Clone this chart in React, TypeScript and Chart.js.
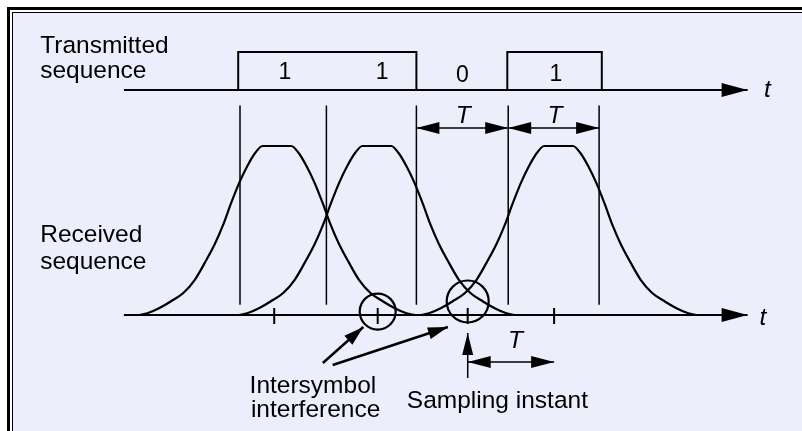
import React, { useEffect, useRef } from "react";
import { Chart, registerables } from "chart.js";

Chart.register(...registerables);

// x: time in bit periods T; yRx: received amplitude; yTx: transmitted level
const bits = [1, 1, 0, 1];
const txEdges = [-0.02, 0.97, 1.96, 2.97, 4.02];
const rxEdges = [0, 0.96, 1.96, 2.98, 3.99];
const bitLabels = ["1", "1", "0", "1"];
const bitLabelTimes = [0.5, 1.58, 2.47, 3.51];
const bitLabelLevels = [0.29, 0.29, 0.21, 0.24];

const pulseCenters = [0.41, 1.52, 3.54];
const pulseOffsets = [
  -1.53, -1.44, -1.31, -1.18, -1.04, -0.91, -0.8, -0.69, -0.6, -0.51, -0.42, -0.33, -0.24, -0.16,
  0.16, 0.24, 0.33, 0.42, 0.51, 0.6, 0.69, 0.8, 0.91, 1.04, 1.18, 1.31, 1.44, 1.53,
];
const pulseAmps = [
  0, 0.01, 0.04, 0.08, 0.13, 0.21, 0.31, 0.42, 0.53, 0.66, 0.78, 0.88, 0.96, 1,
  1, 0.96, 0.88, 0.78, 0.66, 0.53, 0.42, 0.31, 0.21, 0.13, 0.08, 0.04, 0.01, 0,
];

const sampleTimes = [0.38, 1.53, 2.53, 3.49];
const isiTimes = [1.53, 2.53];
const isiLevels = [0.02, 0.08];

const axisRange = [-1.29, 5.64];
const edgeSpan = [0.06, 1.24];
const dimLevel = 1.1065;
const sampleDimLevel = -0.278;
const sampleArrow = [-0.373, -0.1065];
const isiArrowFrom = [
  [0.92, -0.284],
  [1.03, -0.296],
];
const isiArrowTo = [
  [1.37, -0.071],
  [2.31, -0.071],
];

const texts = [
  { text: "Transmitted", x: -2.22, y: 0.974, axis: "yTx", align: "left", italic: false },
  { text: "sequence", x: -2.22, y: 0.316, axis: "yTx", align: "left", italic: false },
  { text: "Received", x: -2.22, y: 0.432, axis: "yRx", align: "left", italic: false },
  { text: "sequence", x: -2.22, y: 0.272, axis: "yRx", align: "left", italic: false },
  { text: "T", x: 2.48, y: 1.136, axis: "yRx", align: "center", italic: true },
  { text: "T", x: 3.5, y: 1.136, axis: "yRx", align: "center", italic: true },
  { text: "T", x: 3.06, y: -0.195, axis: "yRx", align: "center", italic: true },
  { text: "t", x: 5.86, y: -0.184, axis: "yTx", align: "center", italic: true },
  { text: "t", x: 5.81, y: -0.059, axis: "yRx", align: "center", italic: true },
  { text: "Intersymbol", x: 0.81, y: -0.4615, axis: "yRx", align: "center", italic: false },
  { text: "interference", x: 0.84, y: -0.6036, axis: "yRx", align: "center", italic: false },
  { text: "Sampling instant", x: 2.86, y: -0.55, axis: "yRx", align: "center", italic: false },
];

const FONT = '"Liberation Sans", Arial, Helvetica, sans-serif';
const BG = "#EDEEFC";

const framePlugin = {
  id: "frame",
  beforeDraw(chart: any) {
    const { ctx, width, height } = chart;
    ctx.save();
    ctx.fillStyle = "#ffffff";
    ctx.fillRect(0, 0, width, height);
    ctx.fillStyle = "#000000";
    ctx.fillRect(7, 7, width, height);
    ctx.fillStyle = "#ffffff";
    ctx.fillRect(10, 10, width, height);
    ctx.fillStyle = "#000000";
    ctx.fillRect(12, 12, width, height);
    ctx.fillStyle = BG;
    ctx.fillRect(13, 13, width, height);
    ctx.restore();
  },
};

const arrowPlugin = {
  id: "arrows",
  afterDatasetsDraw(chart: any) {
    const ctx = chart.ctx;
    chart.data.datasets.forEach((ds: any, i: number) => {
      if (!ds.arrows) return;
      const pts = chart.getDatasetMeta(i).data;
      if (pts.length < 2) return;
      const L = ds.headLen || 24;
      const H = ds.headHalf || 6;
      const head = (tip: any, from: any) => {
        const dx = tip.x - from.x;
        const dy = tip.y - from.y;
        const d = Math.hypot(dx, dy) || 1;
        const ux = dx / d;
        const uy = dy / d;
        const bx = tip.x - ux * L;
        const by = tip.y - uy * L;
        ctx.beginPath();
        ctx.moveTo(tip.x, tip.y);
        ctx.lineTo(bx - uy * H, by + ux * H);
        ctx.lineTo(bx + uy * H, by - ux * H);
        ctx.closePath();
        ctx.fill();
      };
      ctx.save();
      ctx.fillStyle = "#000";
      if (ds.arrows === "end" || ds.arrows === "both") head(pts[pts.length - 1], pts[pts.length - 2]);
      if (ds.arrows === "start" || ds.arrows === "both") head(pts[0], pts[1]);
      ctx.restore();
    });
  },
};

const textPlugin = {
  id: "texts",
  afterDraw(chart: any) {
    const ctx = chart.ctx;
    const xs = chart.scales.x;
    ctx.save();
    ctx.fillStyle = "#000";
    ctx.textBaseline = "alphabetic";
    texts.forEach((t) => {
      const ys = chart.scales[t.axis];
      ctx.font = `${t.italic ? "italic " : ""}24.5px ${FONT}`;
      ctx.textAlign = t.align;
      ctx.fillText(t.text, xs.getPixelForValue(t.x), ys.getPixelForValue(t.y));
    });
    ctx.font = `23px ${FONT}`;
    ctx.textAlign = "center";
    const ys = chart.scales.yTx;
    bitLabels.forEach((b, i) => {
      ctx.fillText(b, xs.getPixelForValue(bitLabelTimes[i]), ys.getPixelForValue(bitLabelLevels[i]));
    });
    ctx.restore();
  },
};

function buildDatasets() {
  const lineBase = {
    pointRadius: 0,
    borderColor: "#000",
    fill: false,
    tension: 0,
    spanGaps: false,
  };
  const ds: any[] = [];

  // transmitted axis
  ds.push({
    ...lineBase,
    yAxisID: "yTx",
    borderWidth: 2,
    data: [
      { x: axisRange[0], y: 0 },
      { x: axisRange[1], y: 0 },
    ],
    arrows: "end",
    headLen: 26,
    headHalf: 7,
  });

  // transmitted pulses
  const tx: any[] = [{ x: txEdges[0], y: 0 }];
  bits.forEach((b, i) => {
    tx.push({ x: txEdges[i], y: b }, { x: txEdges[i + 1], y: b });
  });
  tx.push({ x: txEdges[bits.length], y: 0 });
  ds.push({ ...lineBase, yAxisID: "yTx", borderWidth: 2, borderJoinStyle: "miter", data: tx });

  // bit boundary lines
  const edges: any[] = [];
  rxEdges.forEach((e) => {
    edges.push({ x: e, y: edgeSpan[0] }, { x: e, y: edgeSpan[1] }, { x: e, y: null });
  });
  ds.push({ ...lineBase, yAxisID: "yRx", borderWidth: 1.5, data: edges });

  // received axis
  ds.push({
    ...lineBase,
    yAxisID: "yRx",
    borderWidth: 2,
    data: [
      { x: axisRange[0], y: 0 },
      { x: axisRange[1], y: 0 },
    ],
    arrows: "end",
    headLen: 26,
    headHalf: 7,
  });

  // received pulses
  pulseCenters.forEach((c) => {
    ds.push({
      ...lineBase,
      yAxisID: "yRx",
      borderWidth: 2.2,
      cubicInterpolationMode: "monotone",
      data: pulseOffsets.map((o, k) => ({ x: c + o, y: pulseAmps[k] })),
    });
  });

  // T dimension arrows
  [
    [rxEdges[2], rxEdges[3]],
    [rxEdges[3], rxEdges[4]],
  ].forEach(([a, b]) => {
    ds.push({
      ...lineBase,
      yAxisID: "yRx",
      borderWidth: 1.5,
      data: [
        { x: a, y: dimLevel },
        { x: b, y: dimLevel },
      ],
      arrows: "both",
      headLen: 23,
      headHalf: 6,
    });
  });
  ds.push({
    ...lineBase,
    yAxisID: "yRx",
    borderWidth: 1.5,
    data: [
      { x: sampleTimes[2], y: sampleDimLevel },
      { x: sampleTimes[3], y: sampleDimLevel },
    ],
    arrows: "both",
    headLen: 23,
    headHalf: 6,
  });

  // sampling instant arrow
  ds.push({
    ...lineBase,
    yAxisID: "yRx",
    borderWidth: 1.5,
    data: [
      { x: sampleTimes[2], y: sampleArrow[0] },
      { x: sampleTimes[2], y: sampleArrow[1] },
    ],
    arrows: "end",
    headLen: 22,
    headHalf: 5.5,
  });

  // ISI arrows
  isiArrowFrom.forEach((f, i) => {
    ds.push({
      ...lineBase,
      yAxisID: "yRx",
      borderWidth: 2.5,
      data: [
        { x: f[0], y: f[1] },
        { x: isiArrowTo[i][0], y: isiArrowTo[i][1] },
      ],
      arrows: "end",
      headLen: 20,
      headHalf: 6,
    });
  });

  // sample ticks
  ds.push({
    yAxisID: "yRx",
    showLine: false,
    data: sampleTimes.map((t) => ({ x: t, y: -0.006 })),
    pointStyle: "line",
    pointRotation: 90,
    pointRadius: 8,
    pointBorderWidth: 2,
    pointBorderColor: "#000",
    pointBackgroundColor: "#000",
    borderColor: "#000",
  });

  // ISI circles
  ds.push({
    yAxisID: "yRx",
    showLine: false,
    data: isiTimes.map((t, i) => ({ x: t, y: isiLevels[i] })),
    pointStyle: "circle",
    pointRadius: [18, 21],
    pointBorderWidth: 2.2,
    pointBorderColor: "#000",
    pointBackgroundColor: "rgba(0,0,0,0)",
    borderColor: "#000",
  });

  return ds;
}

export default function App() {
  const ref = useRef<HTMLCanvasElement | null>(null);
  useEffect(() => {
    if (!ref.current) return;
    const chart = new Chart(ref.current, {
      type: "line",
      data: { datasets: buildDatasets() },
      options: {
        responsive: false,
        animation: false,
        devicePixelRatio: 1,
        layout: { padding: 0, autoPadding: false },
        events: [],
        plugins: { legend: { display: false }, tooltip: { enabled: false } },
        scales: {
          x: { type: "linear", min: -2.6667, max: 6.2444, display: false },
          yRx: { type: "linear", min: -0.6864, max: 1.8639, display: false },
          yTx: { type: "linear", min: -8.974, max: 2.368, display: false },
        },
      } as any,
      plugins: [framePlugin, arrowPlugin, textPlugin],
    });
    return () => chart.destroy();
  }, []);
  return (
    <div style={{ position: "absolute", left: 0, top: 0, width: 802, height: 431 }}>
      <canvas ref={ref} width={802} height={431} style={{ display: "block" }} />
    </div>
  );
}
